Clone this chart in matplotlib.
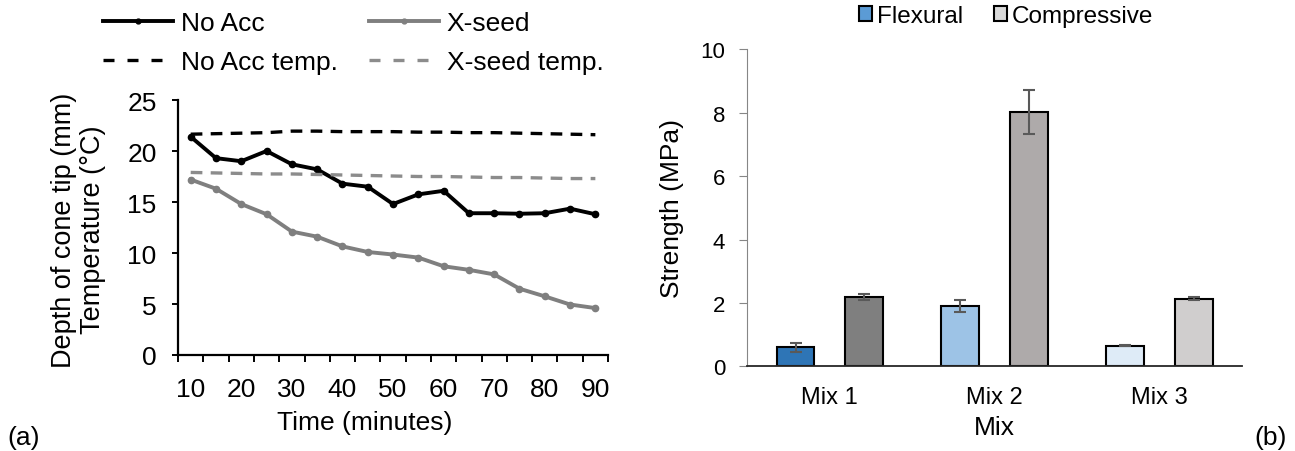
import numpy as np
import matplotlib.pyplot as plt
from matplotlib.lines import Line2D
from matplotlib.patches import Patch

plt.rcParams['font.family'] = ['Liberation Sans', 'DejaVu Sans']

# (a) cone penetration and temperature
time_min = [10, 15, 20, 25, 30, 35, 40, 45, 50, 55, 60, 65, 70, 75, 80, 85, 90]
no_acc = [21.4, 19.3, 19.0, 20.0, 18.7, 18.2, 16.8, 16.5, 14.8, 15.75, 16.1,
          13.9, 13.9, 13.85, 13.9, 14.35, 13.8]
x_seed = [17.2, 16.3, 14.8, 13.8, 12.1, 11.6, 10.65, 10.1, 9.85, 9.55, 8.7,
          8.35, 7.9, 6.5, 5.75, 4.95, 4.6]
no_acc_temp = [21.65, 21.7, 21.75, 21.8, 21.95, 21.95, 21.9, 21.9, 21.9, 21.85,
               21.85, 21.8, 21.8, 21.75, 21.7, 21.65, 21.6]
x_seed_temp = [17.9, 17.85, 17.8, 17.75, 17.75, 17.7, 17.65, 17.6, 17.55, 17.5,
               17.5, 17.45, 17.4, 17.4, 17.35, 17.3, 17.3]

# (b) strength
mixes = ['Mix 1', 'Mix 2', 'Mix 3']
flexural = [0.6, 1.91, 0.65]
flexural_err = [0.13, 0.2, 0.02]
compressive = [2.2, 8.03, 2.14]
compressive_err = [0.09, 0.69, 0.04]
flex_colors = ['#2E75B6', '#9DC3E6', '#DEEBF7']
comp_colors = ['#7F7F7F', '#AEAAAA', '#D0CECE']

fig = plt.figure(figsize=(12.95, 4.52), dpi=100)

dash = (0, (3.5, 2.5))

# ---- panel (a)
ax1 = fig.add_axes([0.1375, 0.2124, 0.332, 0.5641])
ax1.plot(time_min, no_acc, color='black', lw=2.8, marker='o', ms=4.5)
ax1.plot(time_min, x_seed, color='#7F7F7F', lw=2.8, marker='o', ms=4.5)
ax1.plot(time_min, no_acc_temp, color='black', lw=2.4, ls=dash)
ax1.plot(time_min, x_seed_temp, color='#8C8C8C', lw=2.4, ls=dash)
ax1.set_xlim(7.5, 92.5)
ax1.set_ylim(0, 25)
ax1.set_yticks([0, 5, 10, 15, 20, 25])
ax1.set_xticks(time_min[::2])
ax1.set_xticks(np.arange(7.5, 93, 5), minor=True)
ax1.tick_params(axis='x', which='major', length=0, pad=16, labelsize=19)
ax1.tick_params(axis='x', which='minor', length=5, width=1.4)
ax1.tick_params(axis='y', length=4.5, width=1.4, labelsize=19, pad=11)
for s in ['top', 'right']:
    ax1.spines[s].set_visible(False)
for s in ['left', 'bottom']:
    ax1.spines[s].set_linewidth(1.6)
ax1.set_xlabel('Time (minutes)', fontsize=19)
ax1.xaxis.set_label_coords(0.435, -0.215)
fig.text(64 / 1295, 1 - 230 / 452, 'Depth of cone tip (mm)', rotation=90,
         fontsize=19.5, ha='center', va='center')
fig.text(93 / 1295, 1 - 230 / 452, 'Temperature (°C)', rotation=90,
         fontsize=19.5, ha='center', va='center')

handles = [
    Line2D([], [], color='black', lw=2.8, marker='o', ms=3.5),
    Line2D([], [], color='black', lw=2.4, ls=(0, (3.3, 3.9))),
    Line2D([], [], color='#7F7F7F', lw=2.8, marker='o', ms=3.5),
    Line2D([], [], color='#8C8C8C', lw=2.4, ls=(0, (3.3, 3.9))),
]
labels = ['No Acc', 'No Acc temp.', 'X-seed', 'X-seed temp.']
fig.legend(handles, labels, loc='upper left', bbox_to_anchor=(0.0795, 0.974),
           ncol=2, frameon=False, fontsize=19, handlelength=2.65,
           handletextpad=0.3, columnspacing=1.18, labelspacing=0.59,
           borderpad=0, borderaxespad=0)

# ---- panel (b)
ax2 = fig.add_axes([0.577, 0.187, 0.382, 0.702])
x = np.arange(len(mixes))
w = 0.23
off = 0.207
err_kw = dict(ecolor='#595959', elinewidth=1.5, capsize=4.5, capthick=1.5)
ax2.bar(x - off, flexural, w, yerr=flexural_err, color=flex_colors,
        edgecolor='black', linewidth=1.5, error_kw=err_kw, zorder=2)
ax2.bar(x + off, compressive, w, yerr=compressive_err, color=comp_colors,
        edgecolor='black', linewidth=1.5, error_kw=err_kw, zorder=2)
ax2.set_xlim(-0.5, 2.5)
ax2.set_ylim(0, 10)
ax2.set_yticks([0, 2, 4, 6, 8, 10])
ax2.set_xticks(x)
ax2.set_xticklabels(mixes)
ax2.tick_params(axis='x', length=0, pad=14, labelsize=17)
ax2.tick_params(axis='y', length=5.8, color='#868686', labelsize=16, pad=10)
for s in ['top', 'right']:
    ax2.spines[s].set_visible(False)
ax2.spines['left'].set_color('#868686')
ax2.spines['bottom'].set_color('#262626')
ax2.spines['bottom'].set_linewidth(1.3)
ax2.set_xlabel('Mix', fontsize=19, labelpad=5)
ax2.set_ylabel('Strength (MPa)', fontsize=19, labelpad=12)

leg_handles = [Patch(facecolor='#5B9BD5', edgecolor='black', lw=1.5),
               Patch(facecolor='#D9D9D9', edgecolor='black', lw=1.5)]
fig.legend(leg_handles, ['Flexural', 'Compressive'], loc='upper center',
           bbox_to_anchor=(0.777, 0.986), ncol=2, frameon=False, fontsize=17.5,
           handlelength=0.55, handleheight=0.6, handletextpad=0.2,
           columnspacing=1.25, borderpad=0, borderaxespad=0)

fig.text(0.006, 0.004, '(a)', fontsize=19, va='bottom')
fig.text(0.969, 0.004, '(b)', fontsize=19, va='bottom')

fig.savefig('out.png', dpi=100)
